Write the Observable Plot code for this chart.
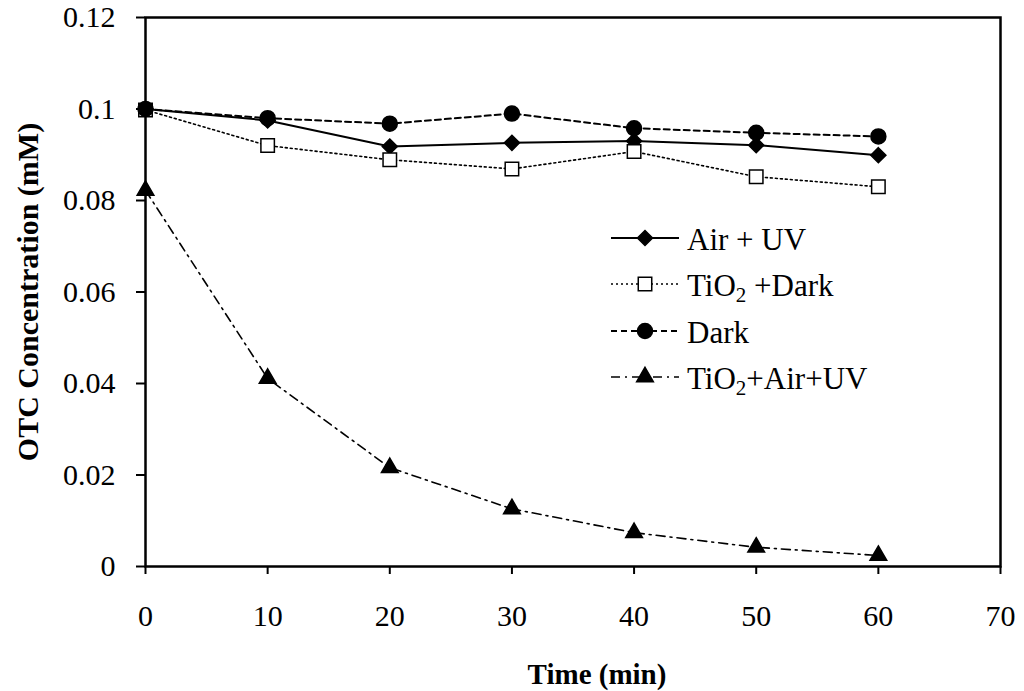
<!DOCTYPE html>
<html>
<head>
<meta charset="utf-8">
<script src="https://cdn.jsdelivr.net/npm/d3@7"></script>
<script src="https://cdn.jsdelivr.net/npm/@observablehq/plot@0.6"></script>
<style>
  html, body { margin: 0; padding: 0; background: #fff; }
  #chart { width: 1024px; height: 691px; }
  #chart text { font-family: "Liberation Serif", "Times New Roman", serif !important; }
</style>
</head>
<body>
<div id="chart"></div>
<script>
// ---- Data ----
const time = [0, 10, 20, 30, 40, 50, 60];
const airUV = [0.1, 0.0975, 0.0918, 0.0926, 0.093, 0.0921, 0.0899];
const tio2Dark = [0.0998, 0.092, 0.0889, 0.0869, 0.0907, 0.0852, 0.0830];
const dark = [0.1, 0.098, 0.0968, 0.099, 0.0958, 0.0948, 0.094];
const tio2AirUV = [0.0822, 0.0411, 0.0216, 0.0126, 0.0074, 0.0042, 0.0024];

const seriesNames = ["Air + UV", "TiO2 +Dark", "Dark", "TiO2+Air+UV"];
const xTicks = [0, 10, 20, 30, 40, 50, 60, 70];
const yTicks = [0, 0.02, 0.04, 0.06, 0.08, 0.1, 0.12];
const yTickLabels = ["0", "0.02", "0.04", "0.06", "0.08", "0.1", "0.12"];
const xLabel = "Time (min)";
const yLabel = "OTC Concentration (mM)";

// ---- Styles per series ----
const styles = [
  {values: airUV, symbol: "diamond2", r: 6.8, fill: "black", dash: null, sw: 2},
  {values: tio2Dark, symbol: "square", r: 7.6, fill: "white", dash: "2,3", sw: 1.6},
  {values: dark, symbol: "circle", r: 7.5, fill: "black", dash: "6,4", sw: 2},
  {values: tio2AirUV, symbol: "triangle", r: 6.2, fill: "black", dash: "9,5,2,5", sw: 1.6}
];

const rows = styles.map((s, i) => time.map((t, j) => ({t, v: s.values[j], name: seriesNames[i]})));

const marks = [];
rows.forEach((data, i) => {
  const s = styles[i];
  marks.push(Plot.line(data, {x: "t", y: "v", stroke: "black", strokeWidth: s.sw, strokeDasharray: s.dash}));
});
rows.forEach((data, i) => {
  const s = styles[i];
  marks.push(Plot.dot(data, {x: "t", y: "v", symbol: () => s.symbol, r: s.r, fill: s.fill, stroke: "black", strokeWidth: 1.5}));
});

const plot = Plot.plot({
  width: 1024,
  height: 691,
  marginLeft: 145,
  marginRight: 24,
  marginTop: 17,
  marginBottom: 125,
  style: {fontFamily: "'Liberation Serif', 'Times New Roman', serif", background: "white", color: "black"},
  x: {domain: [0, 70]},
  y: {domain: [0, 0.12]},
  symbol: {type: "identity"},
  marks: [
    Plot.axisX({ticks: xTicks, tickSize: 8, tickPadding: 30, fontSize: 30, label: null, strokeWidth: 2}),
    Plot.axisY({ticks: yTicks, tickFormat: (d) => yTickLabels[yTicks.indexOf(d)], tickSize: 9, tickPadding: 21, fontSize: 30, label: null, strokeWidth: 2}),
    ...marks,
    Plot.frame({stroke: "black", strokeWidth: 2.5})
  ]
});

document.getElementById("chart").appendChild(plot);

// ---- Axis titles and legend ----
const svg = d3.select(plot);
const font = "'Liberation Serif', 'Times New Roman', serif";

svg.append("text")
  .attr("x", 597).attr("y", 684)
  .attr("text-anchor", "middle")
  .attr("font-family", font).attr("font-weight", "bold").attr("font-size", 29)
  .attr("fill", "black")
  .text(xLabel);

svg.append("text")
  .attr("transform", "translate(38,292) rotate(-90)")
  .attr("text-anchor", "middle")
  .attr("font-family", font).attr("font-weight", "bold").attr("font-size", 30)
  .attr("fill", "black")
  .text(yLabel);

const legendY = [238, 284, 331, 377];
const lg = svg.append("g");
styles.forEach((s, i) => {
  const y = legendY[i];
  lg.append("line").attr("x1", 611).attr("x2", 679).attr("y1", y).attr("y2", y)
    .attr("stroke", "black").attr("stroke-width", s.sw)
    .attr("stroke-dasharray", s.dash);
  const symType = {diamond2: d3.symbolDiamond2, square: d3.symbolSquare, circle: d3.symbolCircle, triangle: d3.symbolTriangle}[s.symbol];
  lg.append("path").attr("d", d3.symbol(symType, Math.PI * s.r * s.r)())
    .attr("transform", `translate(645,${y})`)
    .attr("fill", s.fill).attr("stroke", "black").attr("stroke-width", 1.5);
  const t = lg.append("text").attr("x", 687).attr("y", y + 12)
    .attr("text-anchor", "start")
    .attr("font-family", font).attr("font-size", 31).attr("fill", "black");
  const name = seriesNames[i];
  if (name.startsWith("TiO2")) {
    t.append("tspan").text("TiO");
    t.append("tspan").attr("font-size", 21).attr("dy", 6).text("2");
    t.append("tspan").attr("dy", -6).text(name.slice(4));
  } else {
    t.text(name);
  }
});
</script>
</body>
</html>
